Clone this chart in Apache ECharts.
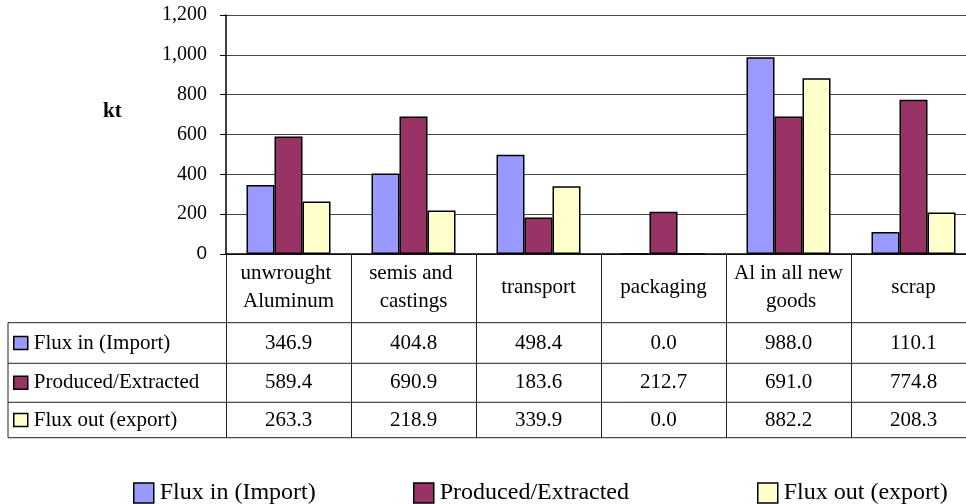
<!DOCTYPE html>
<html>
<head>
<meta charset="utf-8">
<script src="https://cdn.jsdelivr.net/npm/echarts@6/dist/echarts.min.js"></script>
<style>
  html, body { margin: 0; padding: 0; background: #fff; overflow: hidden; }
  #chart { width: 980px; height: 504px; }
</style>
</head>
<body>
<div id="chart"></div>
<script>
// Aluminium flows by product group, in kilotonnes
const categories = ['unwrought Aluminum', 'semis and castings', 'transport', 'packaging', 'Al in all new goods', 'scrap'];
const seriesNames = ['Flux in (Import)', 'Produced/Extracted', 'Flux out (export)'];
const fluxIn = [346.9, 404.8, 498.4, 0.0, 988.0, 110.1];
const produced = [589.4, 690.9, 183.6, 212.7, 691.0, 774.8];
const fluxOut = [263.3, 218.9, 339.9, 0.0, 882.2, 208.3];
const colors = ['#9999FF', '#993366', '#FFFFCC'];
const yMin = 0, yMax = 1200, yStep = 200;
const unitLabel = 'kt';

const SERIF = '"Liberation Serif", "Times New Roman", serif';
const SANS = '"Liberation Sans", Arial, sans-serif';

// plot area and data table geometry (the table runs on past the right edge)
const G = { left: 226, top: 15, width: 750, height: 239 };
const axisY = G.top + G.height;                 // baseline of the plot / top of the table
const rowLines = [322.7, 363.3, 402.3, 437.7];   // horizontal rules of the table
const tableLeft = 8;
const rowCenters = rowLines.slice(0, 3).map((y, i) => (y + rowLines[i + 1]) / 2);
const rowValues = [fluxIn, produced, fluxOut];

const chart = echarts.init(document.getElementById('chart'), null, { renderer: 'canvas' });

// one x axis carries the category headers and the table's column rules,
// three more print the values of each series underneath
const valueAxes = rowValues.map((vals, r) => ({
  type: 'category',
  gridIndex: 0,
  position: 'bottom',
  offset: rowCenters[r] - axisY,
  data: categories,
  axisLine: { show: false },
  axisTick: { show: false },
  axisLabel: {
    interval: 0,
    margin: 0,
    verticalAlign: 'middle',
    fontFamily: SERIF,
    fontSize: 21,
    color: '#000',
    formatter: (v, i) => vals[i].toFixed(1)
  }
}));

const tableLegends = seriesNames.map((name, r) => ({
  data: [name],
  left: 13,
  top: rowCenters[r] - 12,
  padding: 0,
  itemWidth: 14,
  itemHeight: 13,
  itemGap: 6,
  selectedMode: false,
  icon: 'rect',
  itemStyle: { borderColor: '#000', borderWidth: 1.5 },
  textStyle: { fontFamily: SERIF, fontSize: 21, lineHeight: 24, color: '#000', padding: [0, 0, 0, 1] }
}));

const bottomLegends = seriesNames.map((name, r) => ({
  data: [name],
  left: [133, 413, 757][r],
  top: 481,
  padding: 0,
  itemWidth: 20,
  itemHeight: 20,
  icon: 'rect',
  itemStyle: { borderColor: '#000', borderWidth: 1.5 },
  textStyle: { fontFamily: SERIF, fontSize: 24, lineHeight: 24, color: '#000', padding: [0, 0, 0, 1] }
}));

const tableRules = rowLines.map(y => ({
  type: 'line',
  shape: { x1: tableLeft, y1: y, x2: 980, y2: y },
  style: { stroke: '#222', lineWidth: 1 },
  silent: true
}));
tableRules.push({
  type: 'line',
  shape: { x1: tableLeft, y1: rowLines[0], x2: tableLeft, y2: rowLines[3] },
  style: { stroke: '#222', lineWidth: 1 },
  silent: true
});

const option = {
  backgroundColor: '#fff',
  animation: false,
  color: colors,
  grid: { left: G.left, top: G.top, width: G.width, height: G.height, containLabel: false },
  legend: tableLegends.concat(bottomLegends),
  xAxis: [{
    type: 'category',
    data: categories,
    axisLine: { show: true, lineStyle: { color: '#000', width: 1.5 } },
    axisTick: {
      show: true,
      inside: false,
      length: rowLines[3] - axisY,
      lineStyle: { color: '#222', width: 1 }
    },
    axisLabel: {
      interval: 0,
      margin: 287 - axisY,
      verticalAlign: 'middle',
      align: 'center',
      width: 112,
      overflow: 'break',
      lineHeight: 28,
      fontFamily: SERIF,
      fontSize: 21,
      color: '#000'
    },
    splitLine: { show: false }
  }].concat(valueAxes),
  yAxis: {
    type: 'value',
    min: yMin,
    max: yMax,
    interval: yStep,
    axisLine: { show: true, lineStyle: { color: '#000', width: 1.5 } },
    axisTick: { show: true, length: 6, lineStyle: { color: '#000' } },
    axisLabel: {
      margin: 19,
      fontFamily: SERIF,
      fontSize: 20,
      color: '#000',
      formatter: v => v === 0 ? '{s|0}' : v.toLocaleString('en-US'),
      rich: { s: { fontFamily: SANS, fontSize: 19, color: '#000' } }
    },
    splitLine: { show: true, lineStyle: { color: '#444', width: 1 } }
  },
  series: rowValues.map((vals, r) => ({
    name: seriesNames[r],
    type: 'bar',
    data: vals,
    barWidth: 28,
    barGap: '0%',
    itemStyle: { color: colors[r], borderColor: '#000', borderWidth: 1.5 }
  })),
  graphic: tableRules.concat([{
    type: 'text',
    left: 103,
    top: 101,
    style: { text: unitLabel, font: 'bold 21px ' + SERIF, fill: '#000' },
    silent: true
  }])
};

chart.setOption(option);
</script>
</body>
</html>
